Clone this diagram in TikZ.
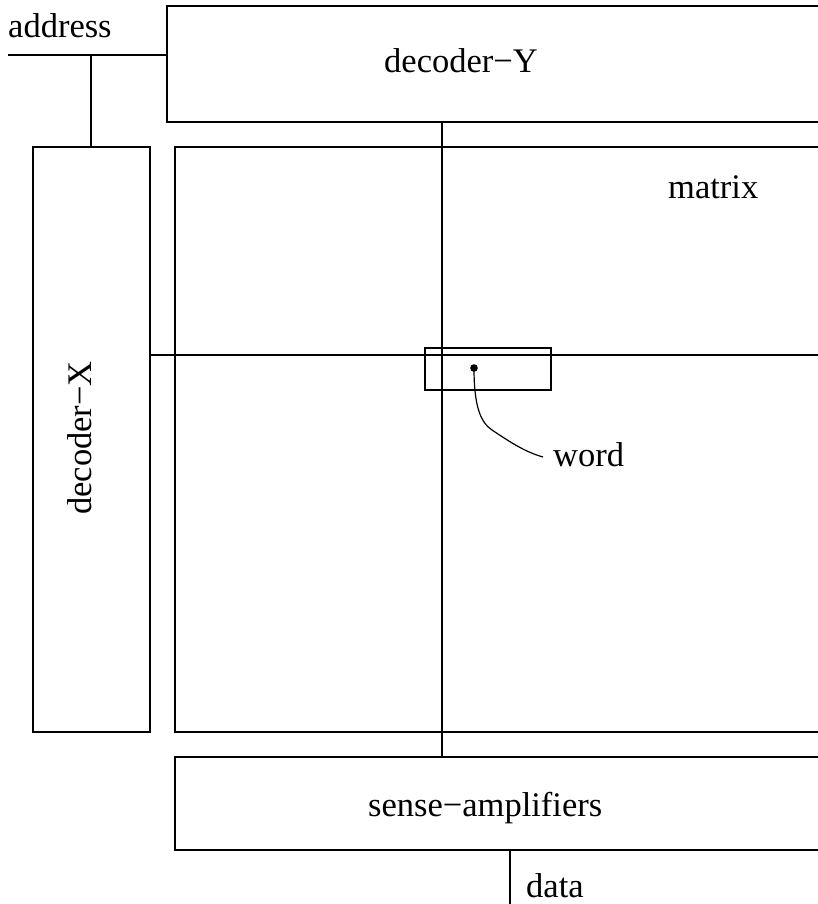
\documentclass[tikz,border=0pt]{standalone}
\usepackage{fontspec}
\setmainfont{Liberation Serif}
\begin{document}
\begin{tikzpicture}[x=1pt,y=-1pt,
  box/.style={draw,line width=1.3pt,inner sep=0pt,minimum width=#1},
  wire/.style={line width=1.3pt},
  lbl/.style={inner sep=0pt,anchor=base west,font=\fontsize{34.5}{40}\selectfont}]
\useasboundingbox (0,0) rectangle (818,904);
\clip (0,0) rectangle (818,904);
% boxes
\node[box=700pt,minimum height=116pt] (decY) at (517,64) {};
\node[box=117pt,minimum height=585pt] (decX) at (91.5,439.5) {};
\node[box=700pt,minimum height=585pt] (mat) at (525,439.5) {};
\node[box=700pt,minimum height=93pt] (sense) at (525,803.5) {};
\node[box=126pt,minimum height=42pt] (word) at (488,369) {};
% coordinates
\coordinate (addr) at (8,55);
\coordinate (branch) at (91,55);
\coordinate (colx) at (442,0);
\coordinate (rowR) at (830,355);
\coordinate (dot) at (474,368);
\coordinate (dataB) at (510,910);
\coordinate (dataT) at (510,850);
% labels
\node[lbl] (laddr) at (8,38) {address};
\node[lbl] (ldecY) at (384,73) {decoder−Y};
\node[lbl,rotate=90] (ldecX) at (91,515) {decoder−X};
\node[lbl] (lmat) at (668,198) {matrix};
\node[lbl] (lsense) at (368,816) {sense−amplifiers};
\node[lbl] (lword) at (553,466) {word};
\node[lbl] (ldata) at (526,897) {data};
% wires
\draw[wire] (addr) -- (addr -| decY.west);
\draw[wire] (branch) -- (branch |- decX.north);
\draw[wire] (colx |- decY.south) -- (colx |- sense.north);
\draw[wire] (decX.east |- rowR) -- (rowR);
\draw[wire] (dataT -| dataB) -- (dataB);
\fill (dot) circle (3.8pt);
\draw[line width=1.2pt] (dot) .. controls (474,405) and (480,422) .. (492,430)
  .. controls (510,442) and (525,452) .. (543,457);
\end{tikzpicture}
\end{document}
